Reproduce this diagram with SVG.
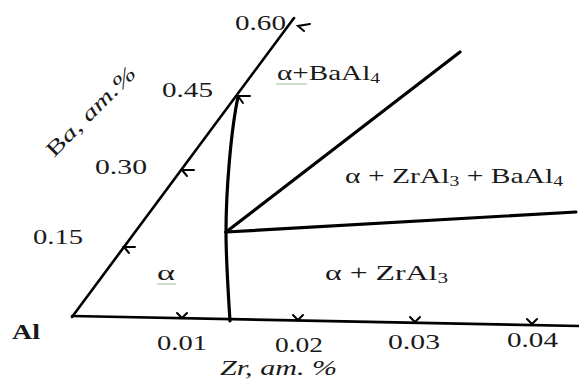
<svg xmlns="http://www.w3.org/2000/svg" width="579" height="381" viewBox="0 0 579 381">
<style>
.ax{stroke:#000;stroke-width:2.6;fill:none;stroke-linecap:round}
.bd{stroke:#000;stroke-width:3.2;fill:none;stroke-linecap:round;stroke-linejoin:round}
.tk{stroke:#000;stroke-width:2;fill:none;stroke-linecap:round;stroke-linejoin:miter}
.t{font-family:"Liberation Serif","Times New Roman",serif;font-size:21px;fill:#1a1a1a}
.n{font-size:22px}
.ul{stroke:#9bbf9b;stroke-width:1}
</style>
<rect width="579" height="381" fill="#fff"/>
<g id="connectors">
  <line class="ax" x1="72" y1="317" x2="294" y2="18"/>
  <line class="ax" x1="72" y1="316" x2="579" y2="326"/>
  <path class="bd" d="M230,321 C228,290 226,255 226,232 C226,190 231,130 238,97"/>
  <line class="bd" x1="226" y1="232" x2="460" y2="52"/>
  <line class="bd" x1="226" y1="232" x2="576" y2="212"/>
</g>
<g id="ba-ticks">
  <path class="tk" d="M135,247 L124,247 L129,253"/>
  <path class="tk" d="M194,170 L182,170 L187,176"/>
  <path class="tk" d="M250,96 L238,96 L243,103"/>
  <path class="tk" d="M310,24 L298,26 L304,31"/>
</g>
<g id="zr-ticks">
  <path class="tk" d="M177,313 L182,318 L187,313"/>
  <path class="tk" d="M293,315 L298,320 L303,315"/>
  <path class="tk" d="M410,317 L415,322 L420,317"/>
  <path class="tk" d="M527,319 L532,324 L537,319"/>
</g>
<g id="ba-labels">
  <text class="t n" x="33" y="244" textLength="50" lengthAdjust="spacingAndGlyphs">0.15</text>
  <text class="t n" x="95" y="174" textLength="52" lengthAdjust="spacingAndGlyphs">0.30</text>
  <text class="t n" x="162" y="97" textLength="51" lengthAdjust="spacingAndGlyphs">0.45</text>
  <text class="t n" x="235" y="30" textLength="51" lengthAdjust="spacingAndGlyphs">0.60</text>
  <text class="t" x="0" y="0" font-size="26" transform="translate(54,158) rotate(-45)" textLength="118" lengthAdjust="spacingAndGlyphs">B<tspan font-style="italic">a, am.%</tspan></text>
</g>
<g id="zr-labels">
  <text class="t n" x="157" y="350" textLength="50" lengthAdjust="spacingAndGlyphs">0.01</text>
  <text class="t n" x="275" y="352" textLength="48" lengthAdjust="spacingAndGlyphs">0.02</text>
  <text class="t n" x="388" y="349" textLength="52" lengthAdjust="spacingAndGlyphs">0.03</text>
  <text class="t n" x="507" y="347" textLength="51" lengthAdjust="spacingAndGlyphs">0.04</text>
  <text class="t n" x="220" y="375" font-style="italic" textLength="117" lengthAdjust="spacingAndGlyphs">Zr, am. %</text>
  <text class="t" x="12" y="339" font-weight="bold" font-size="19" textLength="28" lengthAdjust="spacingAndGlyphs">Al</text>
</g>
<g id="region-alpha">
  <text class="t" x="157" y="280" textLength="18" lengthAdjust="spacingAndGlyphs">α</text>
  <line class="ul" x1="157" y1="284" x2="176" y2="284"/>
</g>
<g id="region-alpha-baal4">
  <text class="t" x="277" y="80" textLength="103" lengthAdjust="spacingAndGlyphs">α+BaAl<tspan font-size="14" dy="3">4</tspan></text>
  <line class="ul" x1="276" y1="84" x2="307" y2="84"/>
</g>
<g id="region-alpha-zral3-baal4">
  <text class="t" x="345" y="183" textLength="218" lengthAdjust="spacingAndGlyphs">α + ZrAl<tspan font-size="14" dy="3">3</tspan><tspan dy="-3"> + BaAl</tspan><tspan font-size="14" dy="3">4</tspan></text>
</g>
<g id="region-alpha-zral3">
  <text class="t" x="325" y="280" textLength="123" lengthAdjust="spacingAndGlyphs">α + ZrAl<tspan font-size="14" dy="3">3</tspan></text>
</g>
</svg>
